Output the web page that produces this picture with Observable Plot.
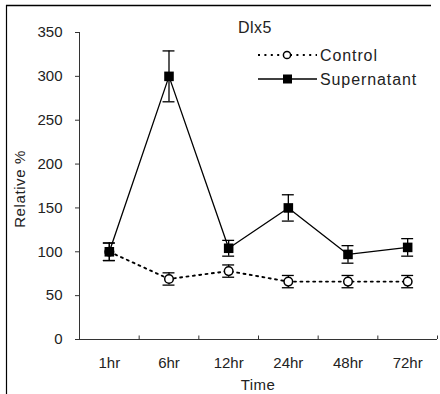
<!DOCTYPE html>
<html>
<head>
<meta charset="utf-8">
<script src="https://cdn.jsdelivr.net/npm/d3@7"></script>
<script src="https://cdn.jsdelivr.net/npm/@observablehq/plot@0.6"></script>
<style>
  html, body { margin: 0; padding: 0; background: #fff; overflow: hidden; }
  #chart { width: 440px; height: 394px; overflow: hidden; }
  #chart svg { display: block; }
</style>
</head>
<body>
<div id="chart"></div>
<script>
// Dlx5 expression relative to 1hr, mean ± error
const times = ["1hr", "6hr", "12hr", "24hr", "48hr", "72hr"];
const controlMean = [100, 69, 78, 66, 66, 66];
const controlErr = [10, 7, 7, 7, 7, 7];
const superMean = [100, 300, 104, 150, 97, 105];
const superErr = [10, 29, 9, 15, 10, 10];
const yTicks = [0, 50, 100, 150, 200, 250, 300, 350];
const title = "Dlx5";
const seriesNames = ["Control", "Supernatant"];

const W = 440, H = 394;
const M = {top: 32, right: 3, bottom: 55, left: 79};
const font = "'Liberation Sans', Arial, sans-serif";
const ink = "#222";

const rows = (means, errs, name) => means.map((m, i) => ({i, t: times[i], m, lo: m - errs[i], hi: m + errs[i], name}));
const control = rows(controlMean, controlErr, seriesNames[0]);
const supern = rows(superMean, superErr, seriesNames[1]);

// band boundaries between the time categories, for the small upward ticks
const bounds = d3.range(-0.5, times.length, 1);
const pxPerUnit = (H - M.top - M.bottom) / 350;
const upTick = 3.5 / pxPerUnit;
const capHalf = 0.1;
const dotted = "2,4.4";

const plot = Plot.plot({
  width: W, height: H,
  marginTop: M.top, marginRight: M.right, marginBottom: M.bottom, marginLeft: M.left,
  style: {fontFamily: font, fontSize: "15px", color: ink, background: "transparent"},
  x: {type: "linear", domain: [-0.5, times.length - 0.5], axis: null},
  y: {domain: [0, 350], axis: null},
  marks: [
    // axes lines
    Plot.ruleX([-0.5], {stroke: "#333", strokeWidth: 1}),
    Plot.ruleY([0], {stroke: "#333", strokeWidth: 1}),
    Plot.ruleX(bounds, {x: d => d, y1: 0, y2: upTick, stroke: "#333", strokeWidth: 1}),
    Plot.axisY({ticks: yTicks, tickSize: 4, tickPadding: 13, label: null, stroke: "#333",
      fontSize: 15, fill: ink, style: {letterSpacing: "0.3px"}}),
    Plot.axisX({ticks: d3.range(times.length), tickSize: 0, tickPadding: 18, label: null,
      tickFormat: i => times[i], fontSize: 15, fill: ink}),

    // Control: dotted line, error bars, open circles
    Plot.line(control, {x: "i", y: "m", stroke: "#000", strokeWidth: 1.9, strokeDasharray: dotted}),
    Plot.ruleX(control, {x: "i", y1: "lo", y2: "hi", stroke: "#000", strokeWidth: 1.3}),
    Plot.ruleY(control, {x1: d => d.i - capHalf, x2: d => d.i + capHalf, y: "hi", stroke: "#000", strokeWidth: 1.3}),
    Plot.ruleY(control, {x1: d => d.i - capHalf, x2: d => d.i + capHalf, y: "lo", stroke: "#000", strokeWidth: 1.3}),
    Plot.dot(control, {x: "i", y: "m", r: 4.3, fill: "#fff", stroke: "#000", strokeWidth: 1.5}),

    // Supernatant: solid line, error bars, filled squares
    Plot.line(supern, {x: "i", y: "m", stroke: "#000", strokeWidth: 1.3}),
    Plot.ruleX(supern, {x: "i", y1: "lo", y2: "hi", stroke: "#000", strokeWidth: 1.3}),
    Plot.ruleY(supern, {x1: d => d.i - capHalf, x2: d => d.i + capHalf, y: "hi", stroke: "#000", strokeWidth: 1.3}),
    Plot.ruleY(supern, {x1: d => d.i - capHalf, x2: d => d.i + capHalf, y: "lo", stroke: "#000", strokeWidth: 1.3}),
    Plot.dot(supern, {x: "i", y: "m", symbol: "square", r: 5.4, fill: "#000", stroke: "none"})
  ]
});

const svg = d3.select(plot);

// outer frame edges: top and left
svg.append("line").attr("x1", 6).attr("x2", 431).attr("y1", 5.5).attr("y2", 5.5)
  .attr("stroke", "#000").attr("stroke-width", 1.5);
svg.append("line").attr("x1", 6.5).attr("x2", 6.5).attr("y1", 5).attr("y2", 394)
  .attr("stroke", "#000").attr("stroke-width", 1.2);

// axis titles
svg.append("text")
  .attr("x", (M.left + W - M.right) / 2).attr("y", 390)
  .attr("text-anchor", "middle")
  .attr("font-family", font).attr("font-size", 15).attr("fill", ink)
  .attr("letter-spacing", "0.4px")
  .text("Time");
svg.append("text")
  .attr("transform", "translate(25,189) rotate(-90)")
  .attr("text-anchor", "middle")
  .attr("font-family", font).attr("font-size", 15).attr("fill", ink)
  .attr("letter-spacing", "0.6px")
  .text("Relative %");

// chart title
svg.append("text")
  .attr("x", 238).attr("y", 33)
  .attr("text-anchor", "start")
  .attr("font-family", font).attr("font-size", 16).attr("fill", ink)
  .attr("letter-spacing", "0.5px")
  .text(title);

// legend
const lg = svg.append("g").attr("font-family", font).attr("font-size", 16).attr("fill", ink)
  .attr("text-anchor", "start");
const rowsY = [55, 79];
lg.append("line").attr("x1", 258).attr("x2", 317).attr("y1", rowsY[0]).attr("y2", rowsY[0])
  .attr("stroke", "#000").attr("stroke-width", 1.9).attr("stroke-dasharray", dotted);
lg.append("circle").attr("cx", 287).attr("cy", rowsY[0]).attr("r", 3.6)
  .attr("fill", "#fff").attr("stroke", "#000").attr("stroke-width", 1.5);
lg.append("line").attr("x1", 258).attr("x2", 317).attr("y1", rowsY[1]).attr("y2", rowsY[1])
  .attr("stroke", "#000").attr("stroke-width", 1.3);
lg.append("rect").attr("x", 283).attr("y", rowsY[1] - 4.5).attr("width", 9).attr("height", 9).attr("fill", "#000");
seriesNames.forEach((n, k) => {
  lg.append("text").attr("x", 320).attr("y", rowsY[k]).attr("dy", "0.36em")
    .attr("text-anchor", "start")
    .attr("letter-spacing", "0.9px").text(n);
});

document.getElementById("chart").appendChild(plot);
</script>
</body>
</html>
